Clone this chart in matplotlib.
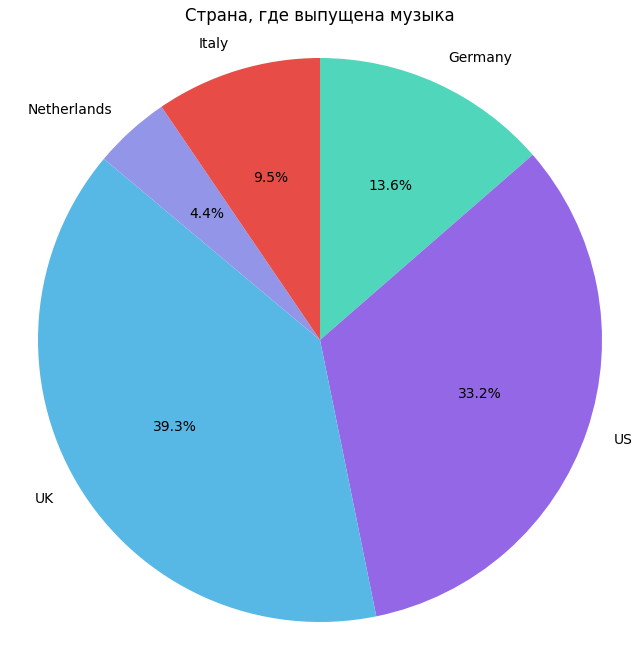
import matplotlib
matplotlib.use('Agg')
import matplotlib.pyplot as plt

# Данные по странам
countries = ['Germany', 'US', 'UK', 'Netherlands', 'Italy']
shares = [13.6, 33.2, 39.3, 4.4, 9.5]
colors = ['#4fd6bb', '#9467e6', '#57b8e6', '#9395e8', '#e74c46']

fig = plt.figure(figsize=(6.42, 6.58), dpi=100)
ax = fig.add_axes([9.8 / 642, 7.8 / 658, 620.4 / 642, 620.4 / 658])

ax.pie(shares, labels=countries, colors=colors, autopct='%1.1f%%',
       startangle=90, counterclock=False)
ax.set_xlim(-1.1, 1.1)
ax.set_ylim(-1.1, 1.1)
ax.set_aspect('equal')
ax.set_title('Страна, где выпущена музыка')

fig.savefig('out.png', dpi=100)
